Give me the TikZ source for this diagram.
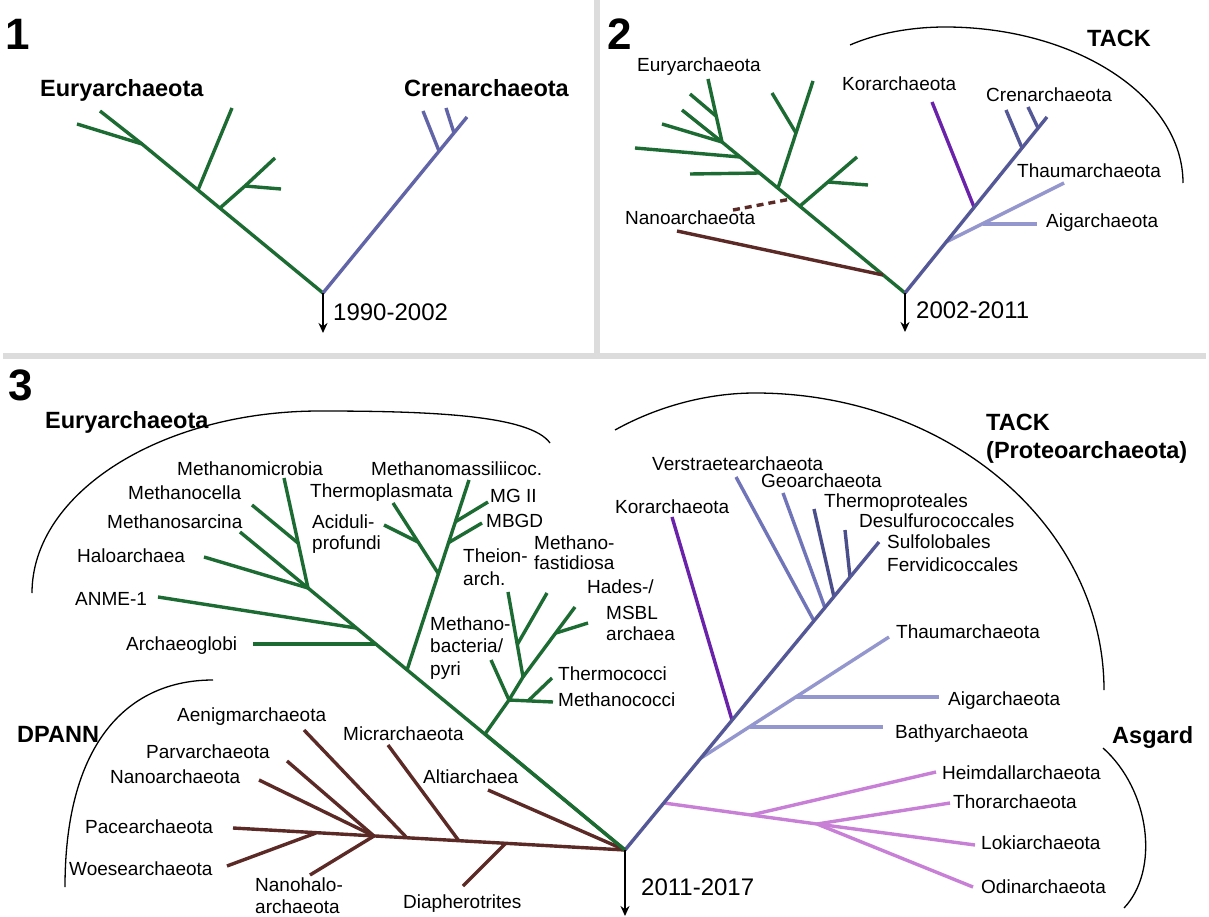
\documentclass[tikz,border=0pt]{standalone}
\usepackage{fontspec}
\setmainfont{Liberation Sans}
\usetikzlibrary{arrows.meta}
\definecolor{eucol}{RGB}{28,107,50}
\definecolor{crcol}{RGB}{98,100,168}
\definecolor{tkcol}{RGB}{84,88,150}
\definecolor{tklcol}{RGB}{112,116,184}
\definecolor{tkdcol}{RGB}{74,78,138}
\definecolor{lbcol}{RGB}{148,150,206}
\definecolor{kocol}{RGB}{106,34,170}
\definecolor{brcol}{RGB}{92,42,38}
\definecolor{agcol}{RGB}{200,128,214}
\definecolor{sepcol}{RGB}{220,220,220}
\begin{document}
\begin{tikzpicture}[x=1pt,y=-1pt,
  branch/.style={line width=3.4pt},
  greenline/.style={branch,draw=eucol},
  crenline/.style={branch,draw=crcol},
  tackline/.style={branch,draw=tkcol},
  tacklight/.style={branch,draw=tklcol},
  tackdark/.style={branch,draw=tkdcol},
  lightline/.style={branch,draw=lbcol},
  korline/.style={branch,draw=kocol},
  brownline/.style={branch,draw=brcol},
  asgline/.style={branch,draw=agcol},
  bracket/.style={line width=1.3pt,draw=black},
  timearrow/.style={line width=2.2pt,draw=black,-{Stealth[length=10pt,width=9pt]}},
  lbl/.style={anchor=base west,inner sep=0pt,font=\fontsize{19}{22}\selectfont},
  blbl/.style={anchor=base west,inner sep=0pt,font=\fontsize{23.5}{27}\selectfont\bfseries},
  yearlbl/.style={anchor=base west,inner sep=0pt,font=\fontsize{24}{28}\selectfont},
  numlbl/.style={anchor=base west,inner sep=0pt,font=\fontsize{44}{48}\selectfont\bfseries}]
\useasboundingbox (0,0) rectangle (1209,917);
\fill[white] (0,0) rectangle (1209,917);
\fill[sepcol] (594,0) rectangle (600,353);
\fill[sepcol] (3,353) rectangle (1206,359);

% ================= Panel 1 =================
\node[numlbl] (num1) at (5,50) {1};
\node[blbl] (p1eury) at (40,97) {Euryarchaeota};
\node[blbl] (p1cren) at (404,97) {Crenarchaeota};
\node[yearlbl] (p1year) at (333,320) {1990-2002};
\coordinate (r1) at (323,293);
\coordinate (r1e) at (323,333);
\coordinate (a1) at (142,144);
\coordinate (a1t1) at (77,124);
\coordinate (a1t2) at (100,111);
\coordinate (b1) at (198,190);
\coordinate (b1t) at (232,108);
\coordinate (c1) at (220,208);
\coordinate (c1m) at (245,186);
\coordinate (c1t1) at (275,158);
\coordinate (c1t2) at (281,189);
\coordinate (cr1) at (467,117);
\coordinate (cj1) at (439,151);
\coordinate (cj1t) at (423,111);
\coordinate (cj2) at (454,133);
\coordinate (cj2t) at (446,108);
\draw[greenline] (r1) -- (a1) -- (a1t1);
\draw[greenline] (a1) -- (a1t2);
\draw[greenline] (b1) -- (b1t);
\draw[greenline] (c1) -- (c1m) -- (c1t1);
\draw[greenline] (c1m) -- (c1t2);
\draw[crenline] (r1) -- (cr1);
\draw[crenline] (cj1) -- (cj1t);
\draw[crenline] (cj2) -- (cj2t);
\draw[timearrow] (r1) -- (r1e);

% ================= Panel 2 =================
\node[numlbl] (num2) at (607,50) {2};
\node[blbl] (p2tack) at (1087,47) {TACK};
\node[lbl] (p2eury) at (637,72) {Euryarchaeota};
\node[lbl] (p2kor) at (842,91) {Korarchaeota};
\node[lbl] (p2cren) at (986,102) {Crenarchaeota};
\node[lbl] (p2thaum) at (1017,178) {Thaumarchaeota};
\node[lbl] (p2aig) at (1046,228) {Aigarchaeota};
\node[lbl] (p2nano) at (625,225) {Nanoarchaeota};
\node[yearlbl] (p2year) at (916,318) {2002-2011};
\draw[bracket] (850,45) .. controls (880,32) and (915,27) .. (945,27)
  .. controls (1076,27) and (1183,97) .. (1183,183);
\coordinate (r2) at (905,293);
\coordinate (r2e) at (905,332);
\coordinate (brj2) at (883,275);
\coordinate (brt2) at (677,231);
\coordinate (dsj2) at (791,199);
\coordinate (dst2) at (733,210);
\coordinate (d2) at (800,206);
\coordinate (d2t) at (857,157);
\coordinate (d2s) at (828,182);
\coordinate (d2st) at (868,185);
\coordinate (e2) at (778,188);
\coordinate (e2t) at (813,81);
\coordinate (e2s) at (796,133);
\coordinate (e2st) at (772,93);
\coordinate (h2) at (760,173);
\coordinate (h2t) at (690,174);
\coordinate (g2) at (740,157);
\coordinate (g2t) at (635,148);
\coordinate (n2) at (722,142);
\coordinate (n2t1) at (662,124);
\coordinate (n2t2) at (682,110);
\coordinate (n2t3) at (708,79);
\coordinate (n2s) at (716,116);
\coordinate (n2st) at (690,94);
\draw[greenline] (r2) -- (n2) -- (n2t3);
\draw[greenline] (n2) -- (n2t1);
\draw[greenline] (n2) -- (n2t2);
\draw[greenline] (n2s) -- (n2st);
\draw[greenline] (g2) -- (g2t);
\draw[greenline] (h2) -- (h2t);
\draw[greenline] (e2) -- (e2t);
\draw[greenline] (e2s) -- (e2st);
\draw[greenline] (d2) -- (d2t);
\draw[greenline] (d2s) -- (d2st);
\draw[brownline] (brt2) -- (brj2);
\draw[branch,draw=brcol,dashed,dash pattern=on 7pt off 5pt] (dst2) -- (dsj2);
\coordinate (cr2t) at (1047,117);
\coordinate (ko2j) at (974,207);
\coordinate (ko2t) at (932,102);
\coordinate (c2j1) at (1022,148);
\coordinate (c2t1) at (1006,110);
\coordinate (c2j2) at (1038,128);
\coordinate (c2t2) at (1028,107);
\coordinate (th2j) at (946,242);
\coordinate (th2t) at (1064,183);
\coordinate (ai2j) at (983,224);
\coordinate (ai2t) at (1037,224);
\draw[korline] (ko2j) -- (ko2t);
\draw[lightline] (th2j) -- (th2t);
\draw[lightline] (ai2j) -- (ai2t);
\draw[tackline] (r2) -- (cr2t);
\draw[tackline] (c2j1) -- (c2t1);
\draw[tackline] (c2j2) -- (c2t2);
\draw[timearrow] (r2) -- (r2e);

% ================= Panel 3 =================
\node[numlbl] (num3) at (8,400) {3};
\node[blbl] (p3eury) at (45,428) {Euryarchaeota};
\node[blbl] (p3tack) at (986,430) {TACK};
\node[blbl] (p3proteo) at (986,458) {(Proteoarchaeota)};
\node[blbl] (p3dpann) at (17,742) {DPANN};
\node[blbl] (p3asg) at (1112,743) {Asgard};
\node[yearlbl] (p3year) at (641,895) {2011-2017};
% brackets
\draw[bracket] (32,593) .. controls (32,493) and (161,411) .. (320,411)
  .. controls (430,411) and (530,415) .. (550,443);
\draw[bracket] (615,430) .. controls (660,405) and (710,393) .. (755,393)
  .. controls (948,393) and (1104,526) .. (1104,690);
\draw[bracket] (213,680) .. controls (130,680) and (65,740) .. (65,887);
\draw[bracket] (1103,748) .. controls (1150,790) and (1160,870) .. (1124,908);
% Euryarchaeota labels
\node[lbl] (l-mmic) at (177,475) {Methanomicrobia};
\node[lbl] (l-mmas) at (371,475) {Methanomassiliicoc.};
\node[lbl] (l-mcel) at (128,499) {Methanocella};
\node[lbl] (l-tpl) at (310,497) {Thermoplasmata};
\node[lbl] (l-mg2) at (490,502) {MG II};
\node[lbl] (l-msar) at (107,528) {Methanosarcina};
\node[lbl] (l-acid1) at (312,528) {Aciduli-};
\node[lbl] (l-acid2) at (312,549) {profundi};
\node[lbl] (l-mbgd) at (486,527) {MBGD};
\node[lbl] (l-halo) at (77,562) {Haloarchaea};
\node[lbl] (l-theion1) at (463,562) {Theion-};
\node[lbl] (l-theion2) at (463,585) {arch.};
\node[lbl] (l-mfas1) at (534,549) {Methano-};
\node[lbl] (l-mfas2) at (534,569) {fastidiosa};
\node[lbl] (l-hades1) at (587,593) {Hades-/};
\node[lbl] (l-hades2) at (606,619) {MSBL};
\node[lbl] (l-hades3) at (606,640) {archaea};
\node[lbl] (l-anme) at (75,605) {ANME-1};
\node[lbl] (l-mbac1) at (430,630) {Methano-};
\node[lbl] (l-mbac2) at (430,652) {bacteria/};
\node[lbl] (l-mbac3) at (430,675) {pyri};
\node[lbl] (l-aglob) at (126,650) {Archaeoglobi};
\node[lbl] (l-tcoc) at (558,680) {Thermococci};
\node[lbl] (l-mcoc) at (558,706) {Methanococci};
% TACK + Asgard labels
\node[lbl] (l-kor) at (615,513) {Korarchaeota};
\node[lbl] (l-vers) at (652,470) {Verstraetearchaeota};
\node[lbl] (l-geo) at (761,487) {Geoarchaeota};
\node[lbl] (l-tprot) at (824,507) {Thermoproteales};
\node[lbl] (l-desulf) at (859,527) {Desulfurococcales};
\node[lbl] (l-sulfo) at (887,548) {Sulfolobales};
\node[lbl] (l-fervi) at (887,571) {Fervidicoccales};
\node[lbl] (l-thaum) at (896,638) {Thaumarchaeota};
\node[lbl] (l-aig) at (948,705) {Aigarchaeota};
\node[lbl] (l-bathy) at (895,738) {Bathyarchaeota};
\node[lbl] (l-heim) at (942,779) {Heimdallarchaeota};
\node[lbl] (l-thor) at (953,808) {Thorarchaeota};
\node[lbl] (l-loki) at (981,849) {Lokiarchaeota};
\node[lbl] (l-odin) at (981,893) {Odinarchaeota};
% DPANN labels
\node[lbl] (l-aenig) at (177,721) {Aenigmarchaeota};
\node[lbl] (l-micr) at (343,740) {Micrarchaeota};
\node[lbl] (l-parv) at (146,758) {Parvarchaeota};
\node[lbl] (l-nano) at (110,783) {Nanoarchaeota};
\node[lbl] (l-alti) at (423,783) {Altiarchaea};
\node[lbl] (l-pace) at (85,833) {Pacearchaeota};
\node[lbl] (l-woese) at (69,875) {Woesearchaeota};
\node[lbl] (l-nhalo1) at (255,891) {Nanohalo-};
\node[lbl] (l-nhalo2) at (255,913) {archaeota};
\node[lbl] (l-diaph) at (403,908) {Diapherotrites};

% green tree
\coordinate (R3) at (625,850);
\coordinate (R3e) at (625,916);
\coordinate (T3) at (308,588);
\coordinate (J3) at (485,734);
\coordinate (K3) at (407,670);
\coordinate (AJ) at (376,644);
\coordinate (AT) at (253,644);
\coordinate (NJ) at (356,628);
\coordinate (NT) at (158,597);
\coordinate (HaT) at (204,557);
\coordinate (SaT) at (240,532);
\coordinate (MiT) at (284,478);
\coordinate (CeJ) at (298,543);
\coordinate (CeT) at (252,505);
\coordinate (L3) at (438,573);
\coordinate (MMT) at (469,480);
\coordinate (MGJ) at (455,522);
\coordinate (MGT) at (488,502);
\coordinate (MBJ) at (448,543);
\coordinate (MBT) at (482,523);
\coordinate (TPT) at (393,503);
\coordinate (AcJ) at (418,542);
\coordinate (AcT) at (384,525);
\coordinate (F3) at (509,700);
\coordinate (McT) at (553,702);
\coordinate (TcJ) at (528,701);
\coordinate (TcT) at (552,678);
\coordinate (MbT) at (491,660);
\coordinate (H3) at (523,677);
\coordinate (HdT) at (575,607);
\coordinate (HdJ) at (556,633);
\coordinate (HsT) at (588,623);
\coordinate (ThT) at (508,592);
\coordinate (MfJ) at (517,645);
\coordinate (MfT) at (547,593);
\draw[greenline] (R3) -- (T3);
\draw[greenline] (AJ) -- (AT);
\draw[greenline] (NJ) -- (NT);
\draw[greenline] (T3) -- (HaT);
\draw[greenline] (T3) -- (SaT);
\draw[greenline] (T3) -- (MiT);
\draw[greenline] (CeJ) -- (CeT);
\draw[greenline] (K3) -- (MMT);
\draw[greenline] (MGJ) -- (MGT);
\draw[greenline] (MBJ) -- (MBT);
\draw[greenline] (L3) -- (TPT);
\draw[greenline] (AcJ) -- (AcT);
\draw[greenline] (J3) -- (F3);
\draw[greenline] (F3) -- (McT);
\draw[greenline] (TcJ) -- (TcT);
\draw[greenline] (F3) -- (MbT);
\draw[greenline] (F3) -- (H3) -- (HdT);
\draw[greenline] (HdJ) -- (HsT);
\draw[greenline] (H3) -- (ThT);
\draw[greenline] (MfJ) -- (MfT);

% TACK tree
\coordinate (SuT) at (879,542);
\coordinate (KoJ) at (732,720);
\coordinate (KoT) at (672,517);
\coordinate (ThJ) at (701,758);
\coordinate (ThaT) at (889,637);
\coordinate (AiJ) at (796,697);
\coordinate (AiT) at (939,697);
\coordinate (BaJ) at (750,727);
\coordinate (BaT) at (883,727);
\coordinate (VeJ) at (814,621);
\coordinate (VeT) at (736,477);
\coordinate (GeJ) at (825,608);
\coordinate (GeT) at (783,493);
\coordinate (TpJ) at (834,597);
\coordinate (TpT) at (814,509);
\coordinate (DeJ) at (850,577);
\coordinate (DeT) at (845,530);
\draw[korline] (KoJ) -- (KoT);
\draw[lightline] (ThJ) -- (ThaT);
\draw[lightline] (AiJ) -- (AiT);
\draw[lightline] (BaJ) -- (BaT);
\draw[tacklight] (VeJ) -- (VeT);
\draw[tacklight] (GeJ) -- (GeT);
\draw[tackdark] (TpJ) -- (TpT);
\draw[tackdark] (DeJ) -- (DeT);
% Asgard
\coordinate (AgJ) at (664,803);
\coordinate (A1) at (751,815);
\coordinate (A2) at (817,824);
\coordinate (LoT) at (975,845);
\coordinate (HeT) at (936,772);
\coordinate (ToT) at (950,803);
\coordinate (OdT) at (973,887);
\draw[asgline] (AgJ) -- (A1) -- (A2) -- (LoT);
\draw[asgline] (A1) -- (HeT);
\draw[asgline] (A2) -- (ToT);
\draw[asgline] (A2) -- (OdT);
\draw[tackline] (R3) -- (SuT);

% DPANN tree
\coordinate (PaT) at (233,828);
\coordinate (DiJ) at (506,843);
\coordinate (DiT) at (463,886);
\coordinate (MrJ) at (459,841);
\coordinate (MrT) at (388,745);
\coordinate (AeJ) at (407,838);
\coordinate (AeT) at (304,730);
\coordinate (PvJ) at (374,836);
\coordinate (PvT) at (287,761);
\coordinate (NhT) at (310,875);
\coordinate (NaT) at (259,780);
\coordinate (WoJ) at (316,833);
\coordinate (WoT) at (227,866);
\coordinate (AlT) at (488,790);
\draw[brownline] (R3) -- (PaT);
\draw[brownline] (DiJ) -- (DiT);
\draw[brownline] (MrJ) -- (MrT);
\draw[brownline] (AeJ) -- (AeT);
\draw[brownline] (PvJ) -- (PvT);
\draw[brownline] (PvJ) -- (NhT);
\draw[brownline] (PvJ) -- (NaT);
\draw[brownline] (WoJ) -- (WoT);
\draw[brownline] (AlT) -- (R3);
\draw[greenline] (R3) -- (J3);
\draw[timearrow] (R3) -- (R3e);
\end{tikzpicture}
\end{document}
